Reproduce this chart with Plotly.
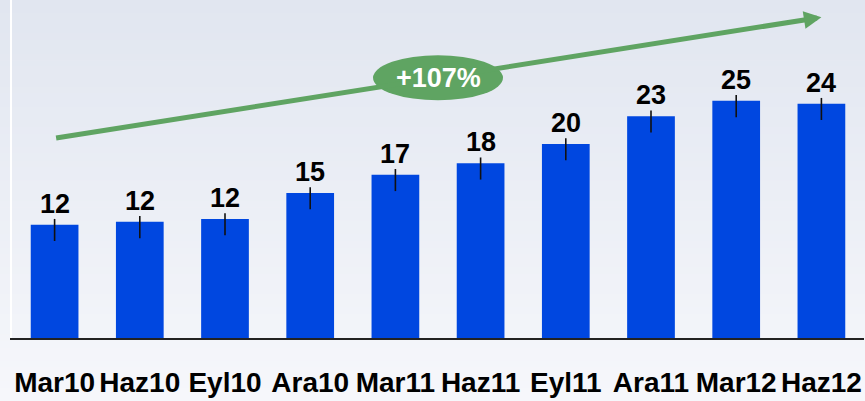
import plotly.graph_objects as go

categories = ["Mar10", "Haz10", "Eyl10", "Ara10", "Mar11", "Haz11", "Eyl11", "Ara11", "Mar12", "Haz12"]
values = [11.8, 12.1, 12.4, 15.1, 17.0, 18.2, 20.2, 23.1, 24.7, 24.4]
value_labels = ["12", "12", "12", "15", "17", "18", "20", "23", "25", "24"]
growth_label = "+107%"
arrow_start = (0, 20.8)
arrow_end = (9, 33.4)
ellipse_center = (4.5, 27.1)

W, H = 865, 401
ML, MR, MT, MB = 12, 1, 0, 63

fig = go.Figure()
fig.add_trace(go.Bar(
    x=list(range(len(categories))), y=values,
    marker=dict(color="#0047e0", line=dict(width=0)),
    width=0.56,
    error_y=dict(type="data", symmetric=False,
                 array=[0.6] * len(values), arrayminus=[1.7] * len(values),
                 color="#111111", thickness=1.6, width=0),
    hoverinfo="skip",
))

# gradient background bands
shapes = []
n = 60
top = (0xe1, 0xe6, 0xf0)
bot = (0xf6, 0xf7, 0xfb)
ph = H - MT - MB
y_low = -MB / ph
y_high = 1 + MT / ph
for i in range(n):
    t = i / (n - 1)
    c = tuple(round(top[k] + (bot[k] - top[k]) * t) for k in range(3))
    y1 = y_high - (y_high - y_low) * i / n
    y0 = y_high - (y_high - y_low) * (i + 1) / n
    shapes.append(dict(type="rect", xref="paper", yref="paper",
                       x0=-ML / (W - ML - MR) - 0.01, x1=1.01, y0=y0 - 0.002, y1=y1,
                       fillcolor="rgb(%d,%d,%d)" % c, line=dict(width=0), layer="below"))

# ellipse around growth label
shapes.append(dict(type="circle", xref="x", yref="y",
                   xsizemode="pixel", ysizemode="pixel",
                   xanchor=ellipse_center[0], yanchor=ellipse_center[1],
                   x0=-65, x1=65, y0=-22.5, y1=22.5,
                   fillcolor="#5fa462", line=dict(width=0), layer="above"))

annotations = []
for i, (v, lab) in enumerate(zip(values, value_labels)):
    annotations.append(dict(x=i, y=v, text="<b>%s</b>" % lab, showarrow=False,
                            xref="x", yref="y", yanchor="bottom", yshift=4,
                            font=dict(family="Liberation Sans, Arial", size=27, color="#000000")))

annotations.append(dict(x=arrow_end[0], y=arrow_end[1], ax=arrow_start[0], ay=arrow_start[1],
                        xref="x", yref="y", axref="x", ayref="y", text="",
                        showarrow=True, arrowhead=2, arrowsize=0.7, arrowwidth=5,
                        arrowcolor="#5fa462", standoff=0))
annotations.append(dict(x=ellipse_center[0], y=ellipse_center[1], text="<b>%s</b>" % growth_label,
                        showarrow=False, xref="x", yref="y",
                        font=dict(family="Liberation Sans, Arial", size=27, color="#ffffff")))

fig.update_layout(
    width=W, height=H,
    margin=dict(l=ML, r=MR, t=MT, b=MB, pad=0),
    paper_bgcolor="#f0f2f8", plot_bgcolor="rgba(0,0,0,0)",
    showlegend=False, bargap=0.44,
    shapes=shapes, annotations=annotations,
    xaxis=dict(tickmode="array", tickvals=list(range(len(categories))), ticktext=["<b>%s</b>" % c for c in categories],
               range=[-0.5, len(categories) - 0.5], tickangle=0,
               showline=True, linecolor="#222222", linewidth=2, showgrid=False, zeroline=False,
               ticks="", tickfont=dict(family="Liberation Sans, Arial", size=28, color="#000000"),
               ticklabelstandoff=18),
    yaxis=dict(range=[0, 35.2], showgrid=False, zeroline=False, showticklabels=False,
               showline=True, linecolor="#ffffff", linewidth=2, ticks=""),
)

fig.write_html("out.html", config={"displayModeBar": False},
               post_script="document.body.style.margin='0';document.body.style.overflow='hidden';")
